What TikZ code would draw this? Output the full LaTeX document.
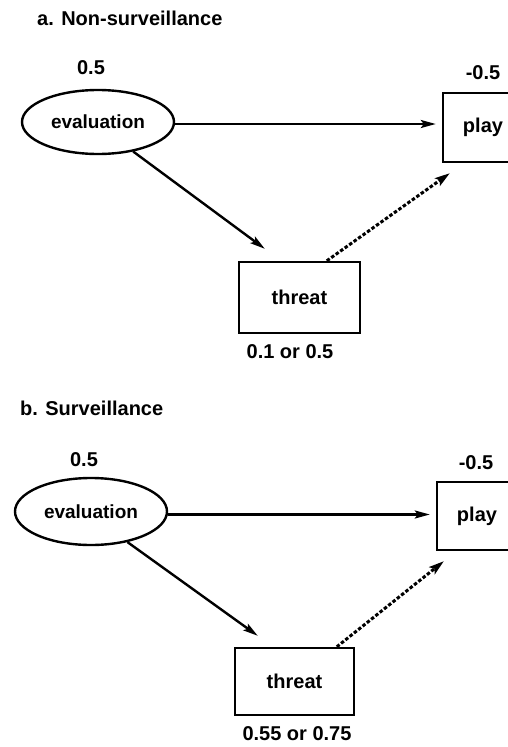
\documentclass[tikz,border=0pt]{standalone}
\usepackage{fontspec}
\setmainfont{Liberation Sans}
\usetikzlibrary{arrows.meta,shapes.geometric}
\tikzset{
  lbl/.style={font=\fontsize{20}{24}\selectfont\bfseries, inner sep=0pt},
  evalnode/.style={ellipse, draw, line width=2.4pt, minimum width=152pt, minimum height=64pt, inner sep=0pt, font=\fontsize{19}{24}\selectfont\bfseries},
  boxnode/.style={rectangle, draw, line width=2.4pt, inner sep=0pt, font=\fontsize{20}{24}\selectfont\bfseries},
  solidarrow/.style={line width=2.4pt, -{Stealth[length=15pt,width=8pt,inset=3pt]}},
  dasharrow/.style={line width=3pt, dash pattern=on 3.5pt off 2pt, -{Stealth[length=15pt,width=9pt,inset=3pt]}}
}
\begin{document}
\begin{tikzpicture}[x=1pt,y=-1pt]
\useasboundingbox (0,0) rectangle (508,747);
\clip (0,0) rectangle (508,747);
\fill[white] (0,0) rectangle (508,747);
% panel a
\node[lbl, anchor=west] (titleA) at (37,18) {a. Non-surveillance};
\node[lbl] (valEvalA) at (91,68) {0.5};
\node[evalnode] (evalA) at (98,122) {evaluation};
\node[boxnode, minimum width=80pt, minimum height=69pt] (playA) at (483,127.5) {play};
\node[lbl] (valPlayA) at (483,73) {-0.5};
\node[boxnode, minimum width=121pt, minimum height=71pt] (threatA) at (299.5,297.5) {threat};
\node[lbl] (valThreatA) at (290,352) {0.1 or 0.5};
\draw[solidarrow, shorten >=6pt] ([yshift=-2pt]evalA.east) -- ([yshift=-2pt]evalA.east -| playA.west);
\draw[solidarrow] (evalA.-40) -- ([xshift=27pt,yshift=12pt]threatA.north west);
\draw[dasharrow] ([xshift=89pt]threatA.north west) -- ([xshift=8pt,yshift=-10pt]playA.south west);
% panel b
\node[lbl, anchor=west] (titleB) at (20,408) {b. Surveillance};
\node[lbl] (valEvalB) at (84,460) {0.5};
\node[evalnode, minimum height=67pt] (evalB) at (91,511.5) {evaluation};
\node[boxnode, minimum width=80pt, minimum height=68pt] (playB) at (477,516) {play};
\node[lbl] (valPlayB) at (476,463) {-0.5};
\node[boxnode, minimum width=119pt, minimum height=67pt] (threatB) at (294.5,681.5) {threat};
\node[lbl] (valThreatB) at (297,734) {0.55 or 0.75};
\draw[solidarrow, shorten >=6pt] ([yshift=-3pt]evalB.east) -- ([yshift=-3pt]evalB.east -| playB.west);
\draw[solidarrow] (evalB.-40) -- ([xshift=24pt,yshift=11pt]threatB.north west);
\draw[dasharrow] ([xshift=103pt]threatB.north west) -- ([xshift=8pt,yshift=-10pt]playB.south west);
\end{tikzpicture}
\end{document}
